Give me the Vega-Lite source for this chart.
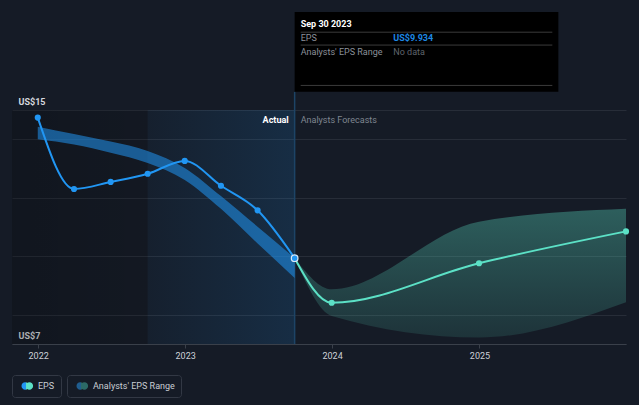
{
  "$schema": "https://vega.github.io/schema/vega-lite/v6.json",
  "width": 614,
  "height": 234,
  "autosize": {"type": "none"},
  "padding": {"left": 12, "top": 110, "right": 13, "bottom": 61},
  "background": "#151b26",
  "config": {"view": {"stroke": null}, "font": "Roboto"},
  "data": {"values": [{}]},
  "datasets": {
    "eps": [
      {"date": "2021-12-31", "eps": 14.74},
      {"date": "2022-03-31", "eps": 12.3},
      {"date": "2022-06-30", "eps": 12.54},
      {"date": "2022-09-30", "eps": 12.82},
      {"date": "2022-12-31", "eps": 13.26},
      {"date": "2023-03-31", "eps": 12.41},
      {"date": "2023-06-30", "eps": 11.57},
      {"date": "2023-09-30", "eps": 9.934}
    ],
    "fc": [
      {"date": "2023-09-30", "eps": 9.934},
      {"date": "2023-12-31", "eps": 8.41},
      {"date": "2024-12-31", "eps": 9.76},
      {"date": "2025-12-31", "eps": 10.85}
    ],
    "band_past": [
      {"date": "2021-12-31", "low": 14.0, "high": 14.43},
      {"date": "2022-03-31", "low": 13.82, "high": 14.18},
      {"date": "2022-06-30", "low": 13.54, "high": 13.92},
      {"date": "2022-09-30", "low": 13.19, "high": 13.6},
      {"date": "2022-12-31", "low": 12.61, "high": 13.02},
      {"date": "2023-03-31", "low": 11.62, "high": 12.06},
      {"date": "2023-06-30", "low": 10.44, "high": 11.01},
      {"date": "2023-09-30", "low": 9.26, "high": 9.94}
    ],
    "band_fc": [
      {"date": "2023-09-30", "low": 9.934, "high": 9.934},
      {"date": "2023-12-31", "low": 7.96, "high": 8.87},
      {"date": "2024-12-31", "low": 7.22, "high": 11.18},
      {"date": "2025-12-31", "low": 8.43, "high": 11.62}
    ]
  },
  "resolve": {"scale": {"stroke": "independent"}, "legend": {"stroke": "independent"}},
  "layer": [
    {
      "mark": {"type": "rect", "fill": {"gradient": "linear", "x1": 0, "y1": 0, "x2": 1, "y2": 0, "stops": [{"offset": 0, "color": "rgba(0,0,0,0.2)"}, {"offset": 1, "color": "rgba(0,0,0,0.1)"}]}},
      "encoding": {
        "x": {
          "datum": {"year": 2021, "month": 10, "date": 28, "utc": true},
          "type": "temporal",
          "scale": {"type": "utc", "domain": [{"year": 2021, "month": 10, "date": 28, "utc": true}, {"year": 2025, "month": 12, "date": 31, "utc": true}]},
          "axis": {
            "title": null,
            "format": "%Y",
            "formatType": "utc",
            "values": [
              {"year": 2022, "month": 1, "date": 1, "utc": true},
              {"year": 2023, "month": 1, "date": 1, "utc": true},
              {"year": 2024, "month": 1, "date": 1, "utc": true},
              {"year": 2025, "month": 1, "date": 1, "utc": true}
            ],
            "grid": false,
            "domainColor": "#3a404a",
            "tickColor": "#3a404a",
            "tickSize": 4,
            "labelColor": "#cdd1d8",
            "labelFont": "Roboto",
            "labelFontSize": 9,
            "labelPadding": 3
          }
        },
        "x2": {"datum": {"year": 2022, "month": 9, "date": 30, "utc": true}},
        "y": {
          "datum": 7,
          "type": "quantitative",
          "scale": {"domain": [7, 15], "nice": false, "zero": false},
          "axis": {
            "title": null,
            "values": [7, 8, 10, 12, 14, 15],
            "labelExpr": "datum.value == 7 || datum.value == 15 ? 'US$' + datum.value : ''",
            "grid": true,
            "gridColor": "#272d38",
            "ticks": false,
            "tickSize": 0,
            "domain": false,
            "labelAlign": "left",
            "labelPadding": -6,
            "labelBaseline": "alphabetic",
            "labelOffset": -6,
            "labelColor": "#d5d8de",
            "labelFont": "Roboto",
            "labelFontSize": 9,
            "labelFontWeight": "bold",
            "labelOverlap": false,
            "labelFlush": false
          }
        },
        "y2": {"datum": 15}
      }
    },
    {
      "mark": {"type": "rect", "fill": {"gradient": "linear", "x1": 0, "y1": 0, "x2": 1, "y2": 0, "stops": [{"offset": 0, "color": "rgba(33,150,243,0.04)"}, {"offset": 1, "color": "rgba(33,150,243,0.15)"}]}},
      "encoding": {
        "x": {"datum": {"year": 2022, "month": 9, "date": 30, "utc": true}, "type": "temporal"},
        "x2": {"datum": {"year": 2023, "month": 9, "date": 30, "utc": true}},
        "y": {"datum": 7, "type": "quantitative"},
        "y2": {"datum": 15}
      }
    },
    {
      "mark": {"type": "rule", "color": "#1d4466", "strokeWidth": 1.5},
      "encoding": {
        "x": {"datum": {"year": 2023, "month": 9, "date": 30, "utc": true}, "type": "temporal"},
        "y": {"datum": 7, "type": "quantitative"},
        "y2": {"datum": 15.62}
      }
    },
    {
      "data": {"name": "band_past"},
      "mark": {"type": "area", "interpolate": "monotone", "fill": "#2196f3", "fillOpacity": 0.55},
      "encoding": {
        "x": {"field": "date", "type": "temporal"},
        "y": {"field": "low", "type": "quantitative"},
        "y2": {"field": "high"}
      }
    },
    {
      "data": {"name": "band_fc"},
      "mark": {"type": "area", "interpolate": "monotone", "fill": {"gradient": "linear", "x1": 0, "y1": 0, "x2": 0, "y2": 1, "stops": [{"offset": 0, "color": "rgba(92,225,198,0.34)"}, {"offset": 1, "color": "rgba(92,225,198,0.12)"}]}},
      "encoding": {
        "x": {"field": "date", "type": "temporal"},
        "y": {"field": "low", "type": "quantitative"},
        "y2": {"field": "high"}
      }
    },
    {
      "data": {"name": "eps"},
      "mark": {"type": "line", "interpolate": "monotone", "strokeWidth": 2, "color": "#2196f3"},
      "encoding": {
        "x": {"field": "date", "type": "temporal"},
        "y": {"field": "eps", "type": "quantitative"}
      }
    },
    {
      "data": {"name": "fc"},
      "mark": {"type": "line", "interpolate": "monotone", "strokeWidth": 2, "color": "#5ce1c6"},
      "encoding": {
        "x": {"field": "date", "type": "temporal"},
        "y": {"field": "eps", "type": "quantitative"}
      }
    },
    {
      "data": {"name": "eps"},
      "mark": {"type": "point", "filled": true, "size": 38, "color": "#2196f3", "opacity": 1},
      "encoding": {
        "x": {"field": "date", "type": "temporal"},
        "y": {"field": "eps", "type": "quantitative"}
      }
    },
    {
      "data": {"name": "fc"},
      "mark": {"type": "point", "filled": true, "size": 38, "color": "#5ce1c6", "opacity": 1},
      "encoding": {
        "x": {"field": "date", "type": "temporal"},
        "y": {"field": "eps", "type": "quantitative"}
      }
    },
    {
      "data": {"name": "eps"},
      "transform": [{"filter": "datum.eps == 9.934"}],
      "mark": {"type": "point", "filled": true, "size": 44, "fill": "#2196f3", "stroke": "#dbe9f6", "strokeWidth": 1.2, "opacity": 1},
      "encoding": {
        "x": {"field": "date", "type": "temporal"},
        "y": {"field": "eps", "type": "quantitative"}
      }
    },
    {
      "data": {"values": []},
      "mark": {"type": "point", "filled": true, "strokeWidth": 0, "fill": {"gradient": "linear", "x1": 0, "y1": 0, "x2": 1, "y2": 0, "stops": [{"offset": 0, "color": "#2196f3"}, {"offset": 0.38, "color": "#2196f3"}, {"offset": 0.38, "color": "#5ce1c6"}, {"offset": 1, "color": "#5ce1c6"}]}},
      "encoding": {
        "x": {"field": "date", "type": "temporal"},
        "y": {"field": "eps", "type": "quantitative"},
        "stroke": {
          "datum": "EPS",
          "type": "nominal",
          "scale": {"range": ["#2196f3"]},
          "legend": {
            "title": null,
            "orient": "none",
            "legendX": 0,
            "legendY": 265,
            "padding": 6,
            "strokeColor": "#323844",
            "cornerRadius": 3,
            "symbolType": "M -0.3,0 A 0.74,0.74 0 1,0 1.18,0 A 0.74,0.74 0 1,0 -0.3,0 Z M 0.54,0 A 0.74,0.74 0 1,0 2.02,0 A 0.74,0.74 0 1,0 0.54,0 Z",
            "symbolSize": 100,
            "symbolStrokeWidth": 0,
            "symbolOpacity": 1,
            "labelOffset": 10,
            "labelFont": "Roboto",
            "labelFontSize": 9,
            "labelColor": "#c9cdd3",
            "labelExpr": "datum.label + '  '"
          }
        }
      }
    },
    {
      "data": {"values": []},
      "mark": {"type": "point", "filled": true, "strokeWidth": 0, "fill": {"gradient": "linear", "x1": 0, "y1": 0, "x2": 1, "y2": 0, "stops": [{"offset": 0, "color": "#1f5d8f"}, {"offset": 0.38, "color": "#1f5d8f"}, {"offset": 0.38, "color": "#2c6a67"}, {"offset": 1, "color": "#2c6a67"}]}},
      "encoding": {
        "x": {"field": "date", "type": "temporal"},
        "y": {"field": "low", "type": "quantitative"},
        "stroke": {
          "datum": "Analysts' EPS Range",
          "type": "nominal",
          "scale": {"range": ["#1f5d8f"]},
          "legend": {
            "title": null,
            "orient": "none",
            "legendX": 55,
            "legendY": 265,
            "padding": 6,
            "strokeColor": "#323844",
            "cornerRadius": 3,
            "symbolType": "M -0.3,0 A 0.74,0.74 0 1,0 1.18,0 A 0.74,0.74 0 1,0 -0.3,0 Z M 0.54,0 A 0.74,0.74 0 1,0 2.02,0 A 0.74,0.74 0 1,0 0.54,0 Z",
            "symbolSize": 100,
            "symbolStrokeWidth": 0,
            "symbolOpacity": 1,
            "labelOffset": 10,
            "labelFont": "Roboto",
            "labelFontSize": 9,
            "labelColor": "#c9cdd3",
            "labelExpr": "datum.label + ' '"
          }
        }
      }
    },
    {
      "mark": {"type": "text", "text": "Actual", "align": "right", "baseline": "middle", "dx": -6, "font": "Roboto", "fontSize": 9, "fontWeight": "bold", "color": "#ffffff"},
      "encoding": {
        "x": {"datum": {"year": 2023, "month": 9, "date": 30, "utc": true}, "type": "temporal"},
        "y": {"datum": 14.66, "type": "quantitative"}
      }
    },
    {
      "mark": {"type": "text", "text": "Analysts Forecasts", "align": "left", "baseline": "middle", "dx": 6, "font": "Roboto", "fontSize": 9, "color": "#7f8690"},
      "encoding": {
        "x": {"datum": {"year": 2023, "month": 9, "date": 30, "utc": true}, "type": "temporal"},
        "y": {"datum": 14.66, "type": "quantitative"}
      }
    },
    {
      "mark": {"type": "rect", "fill": "#000000"},
      "encoding": {
        "x": {"datum": {"year": 2023, "month": 9, "date": 30, "utc": true}, "type": "temporal"},
        "x2": {"datum": {"year": 2025, "month": 7, "date": 16, "utc": true}},
        "y": {"datum": 15.62, "type": "quantitative"},
        "y2": {"datum": 18.35}
      }
    },
    {
      "mark": {"type": "rule", "color": "#3b3b3b", "strokeWidth": 1},
      "encoding": {
        "x": {"datum": {"year": 2023, "month": 10, "date": 15, "utc": true}, "type": "temporal"},
        "x2": {"datum": {"year": 2025, "month": 7, "date": 1, "utc": true}},
        "y": {"datum": 17.66, "type": "quantitative"}
      }
    },
    {
      "mark": {"type": "rule", "color": "#3b3b3b", "strokeWidth": 1},
      "encoding": {
        "x": {"datum": {"year": 2023, "month": 10, "date": 15, "utc": true}, "type": "temporal"},
        "x2": {"datum": {"year": 2025, "month": 7, "date": 1, "utc": true}},
        "y": {"datum": 17.22, "type": "quantitative"}
      }
    },
    {
      "mark": {"type": "rule", "color": "#3b3b3b", "strokeWidth": 1},
      "encoding": {
        "x": {"datum": {"year": 2023, "month": 10, "date": 15, "utc": true}, "type": "temporal"},
        "x2": {"datum": {"year": 2025, "month": 7, "date": 1, "utc": true}},
        "y": {"datum": 15.84, "type": "quantitative"}
      }
    },
    {
      "mark": {"type": "text", "text": "Sep 30 2023", "align": "left", "baseline": "middle", "font": "Roboto", "fontSize": 9, "fontWeight": "bold", "color": "#ffffff"},
      "encoding": {
        "x": {"datum": {"year": 2023, "month": 10, "date": 15, "utc": true}, "type": "temporal"},
        "y": {"datum": 17.94, "type": "quantitative"}
      }
    },
    {
      "mark": {"type": "text", "text": "EPS", "align": "left", "baseline": "middle", "font": "Roboto", "fontSize": 9, "color": "#8b909a"},
      "encoding": {
        "x": {"datum": {"year": 2023, "month": 10, "date": 15, "utc": true}, "type": "temporal"},
        "y": {"datum": 17.45, "type": "quantitative"}
      }
    },
    {
      "mark": {"type": "text", "text": "Analysts' EPS Range", "align": "left", "baseline": "middle", "font": "Roboto", "fontSize": 9, "color": "#8b909a"},
      "encoding": {
        "x": {"datum": {"year": 2023, "month": 10, "date": 15, "utc": true}, "type": "temporal"},
        "y": {"datum": 17.0, "type": "quantitative"}
      }
    },
    {
      "mark": {"type": "text", "text": "US$9.934", "align": "left", "baseline": "middle", "font": "Roboto", "fontSize": 9, "fontWeight": "bold", "color": "#1e88e5"},
      "encoding": {
        "x": {"datum": {"year": 2024, "month": 6, "date": 1, "utc": true}, "type": "temporal"},
        "y": {"datum": 17.45, "type": "quantitative"}
      }
    },
    {
      "mark": {"type": "text", "text": "No data", "align": "left", "baseline": "middle", "font": "Roboto", "fontSize": 9, "color": "#5f646c"},
      "encoding": {
        "x": {"datum": {"year": 2024, "month": 6, "date": 1, "utc": true}, "type": "temporal"},
        "y": {"datum": 17.0, "type": "quantitative"}
      }
    }
  ]
}
